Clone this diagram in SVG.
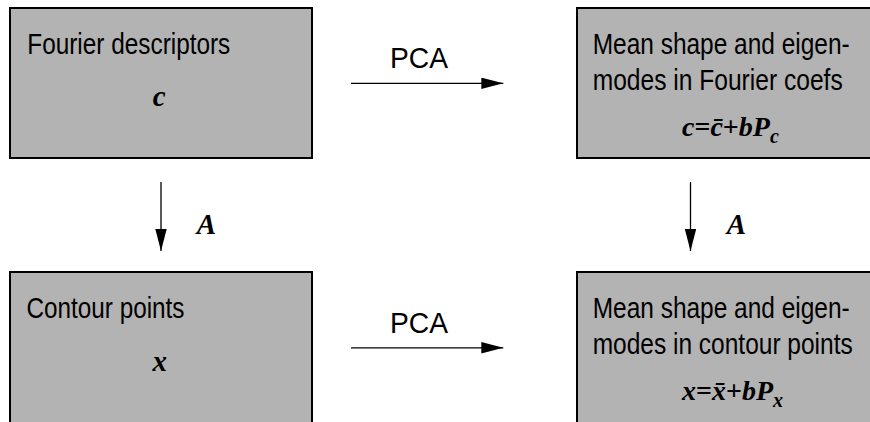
<svg xmlns="http://www.w3.org/2000/svg" width="870" height="422" viewBox="0 0 870 422">
  <style>
    .box { fill: #b3b3b3; stroke: #000; stroke-width: 2; }
    .lbl { font-family: "Liberation Sans", Arial, sans-serif; font-size: 29px; fill: #000; }
    .math { font-family: "Liberation Serif", "Times New Roman", serif; font-style: italic; font-weight: bold; font-size: 29px; fill: #000; }
    .fml { font-family: "Liberation Serif", "Times New Roman", serif; font-style: italic; font-weight: bold; font-size: 28px; fill: #000; }
    .up { font-style: normal; }
    .conn { stroke: #000; stroke-width: 1.3; fill: none; marker-end: url(#arr); }
  </style>
  <defs>
    <marker id="arr" markerUnits="userSpaceOnUse" markerWidth="23" markerHeight="12" refX="22" refY="5.7" orient="auto">
      <path d="M0,0 L22,5.7 L0,11.4 Z" fill="#000"/>
    </marker>
  </defs>

  <g id="fourier">
    <rect class="box" x="10" y="8" width="302" height="150"/>
    <text class="lbl" x="27.3" y="54" textLength="203" lengthAdjust="spacingAndGlyphs">Fourier descriptors</text>
    <text class="math" x="152.7" y="106">c</text>
  </g>

  <g id="mean-fourier">
    <rect class="box" x="577" y="8" width="294" height="150"/>
    <text class="lbl" x="592.7" y="54" textLength="257" lengthAdjust="spacingAndGlyphs">Mean shape and eigen-</text>
    <text class="lbl" x="592.7" y="90" textLength="250" lengthAdjust="spacingAndGlyphs">modes in Fourier coefs</text>
    <text class="fml" x="682" y="136">c<tspan class="up">=</tspan>c&#x304;<tspan class="up">+</tspan>bP<tspan font-size="20" dy="7">c</tspan></text>
  </g>

  <g id="contour">
    <rect class="box" x="10" y="272" width="302" height="151"/>
    <text class="lbl" x="26.5" y="318" textLength="158" lengthAdjust="spacingAndGlyphs">Contour points</text>
    <text class="math" x="152.5" y="370.5">x</text>
  </g>

  <g id="mean-contour">
    <rect class="box" x="577" y="272" width="294" height="151"/>
    <text class="lbl" x="592.7" y="318" textLength="257" lengthAdjust="spacingAndGlyphs">Mean shape and eigen-</text>
    <text class="lbl" x="592.7" y="354" textLength="260" lengthAdjust="spacingAndGlyphs">modes in contour points</text>
    <text class="fml" x="682" y="400">x<tspan class="up">=</tspan>x&#x304;<tspan class="up">+</tspan>bP<tspan font-size="20" dy="7">x</tspan></text>
  </g>

  <g id="connectors">
    <line class="conn" x1="351" y1="83.3" x2="503.3" y2="83.3"/>
    <text class="lbl" x="390" y="68.3" textLength="58" lengthAdjust="spacingAndGlyphs">PCA</text>
    <line class="conn" x1="351" y1="347.8" x2="503.3" y2="347.8"/>
    <text class="lbl" x="390" y="333" textLength="58" lengthAdjust="spacingAndGlyphs">PCA</text>
    <line class="conn" x1="161" y1="182" x2="161" y2="251"/>
    <text class="math" x="196.7" y="234.3">A</text>
    <line class="conn" x1="690.5" y1="182" x2="690.5" y2="251"/>
    <text class="math" x="726.7" y="234.3">A</text>
  </g>
</svg>
